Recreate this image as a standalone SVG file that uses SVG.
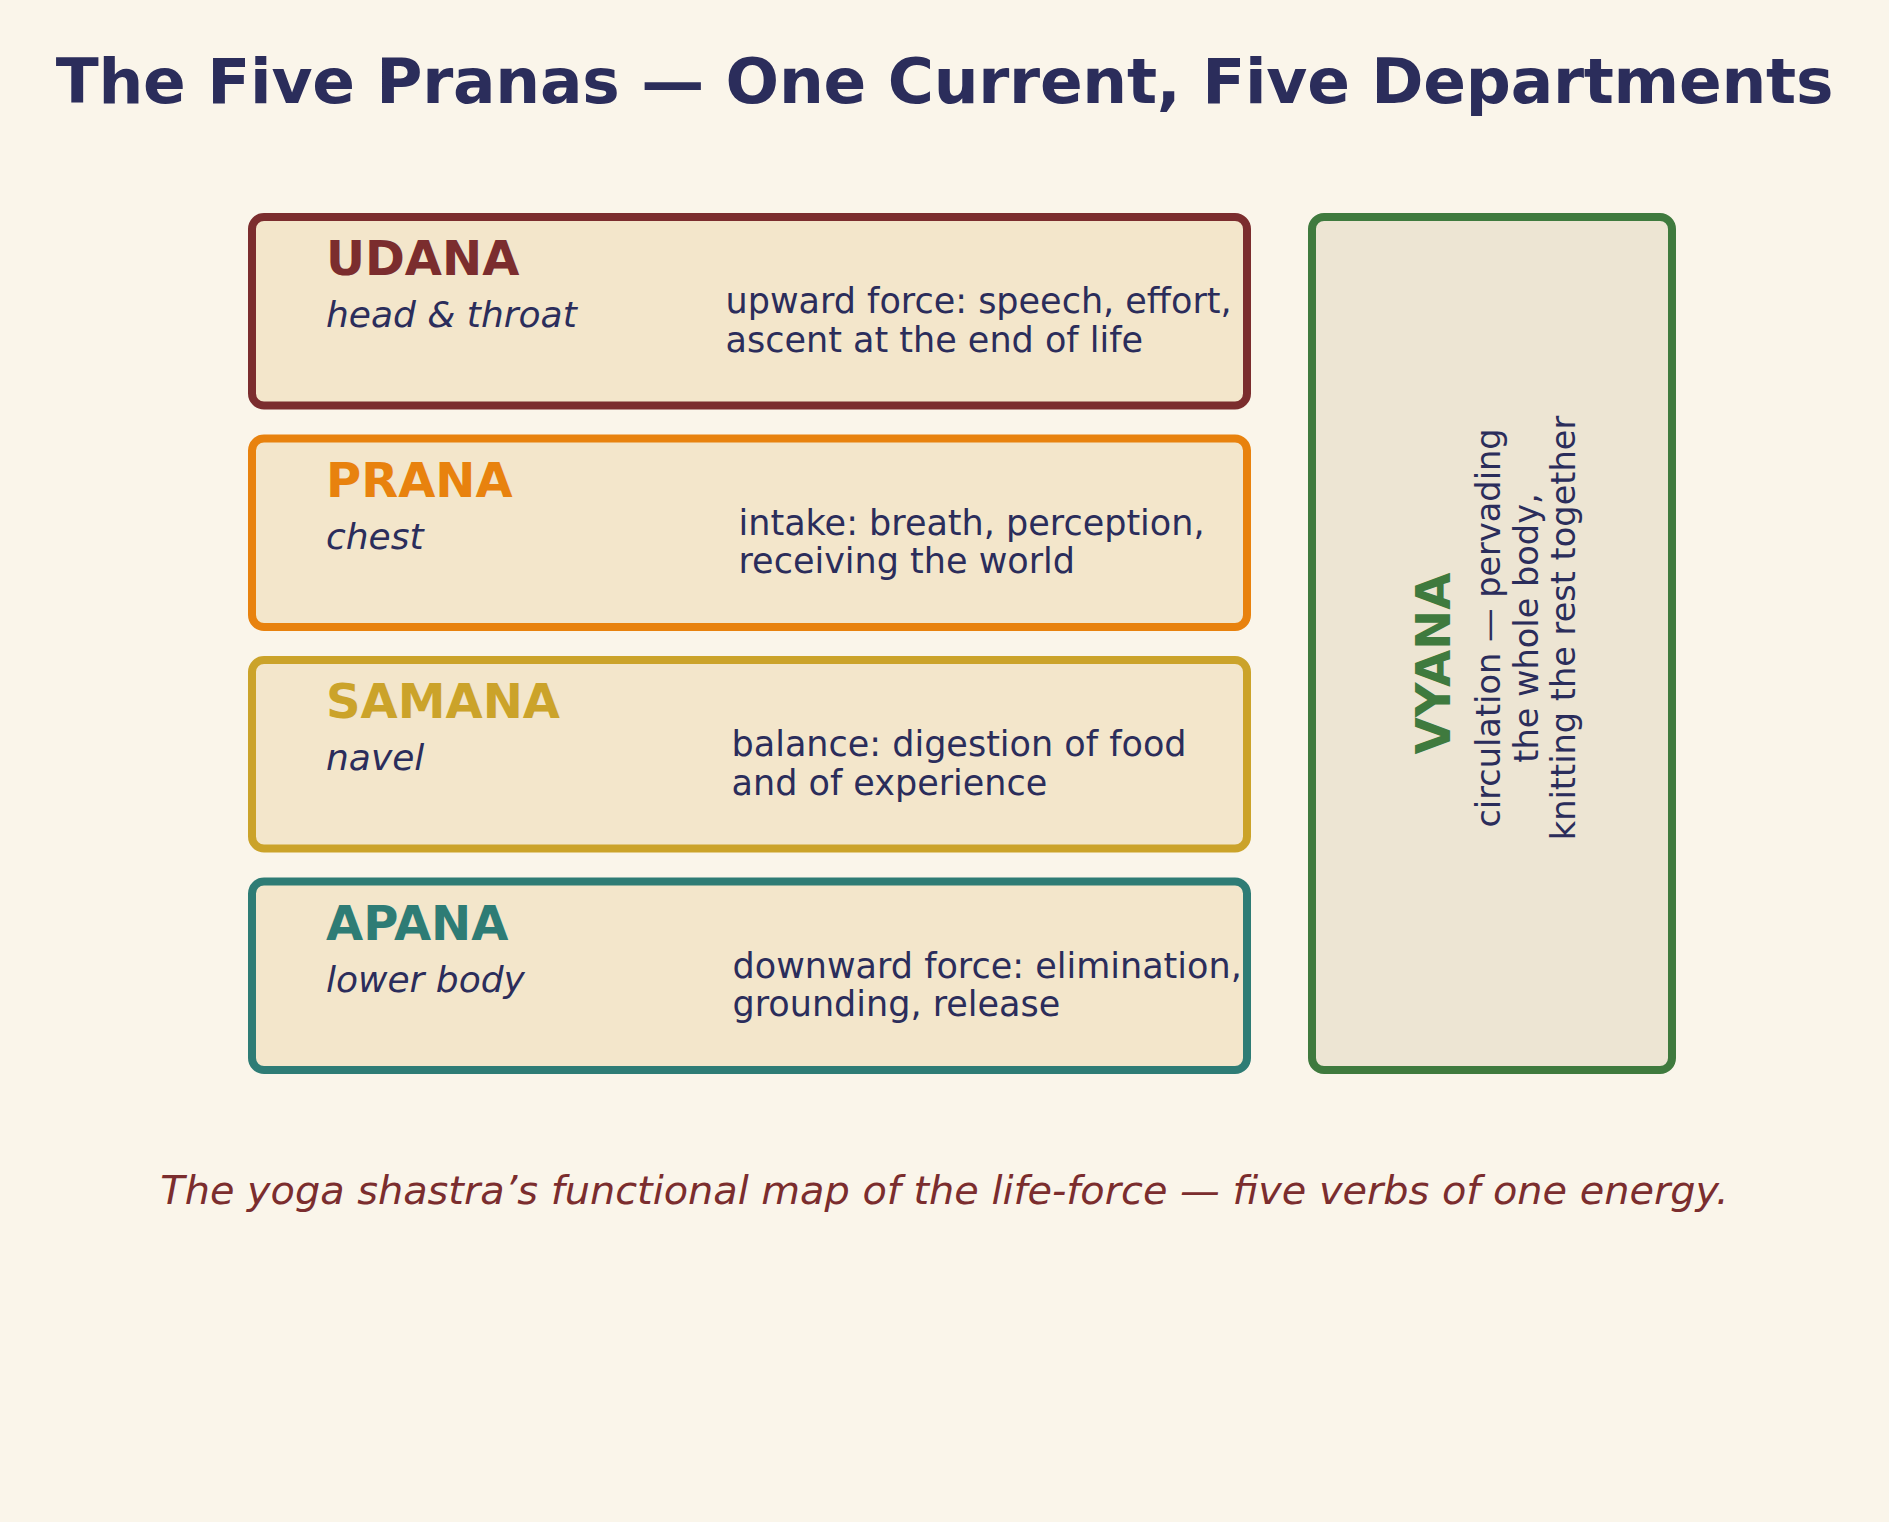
<svg xmlns="http://www.w3.org/2000/svg" width="1889" height="1522" viewBox="0 0 1889 1522">
<style>
.bg{fill:#faf5ea}
.box{fill:#f3e6cb;stroke-width:8}
.title{font-family:"DejaVu Sans",Verdana,sans-serif;font-weight:bold;font-size:63px;letter-spacing:-0.25px;fill:#2b2d5b}
.name{font-family:"DejaVu Sans",Verdana,sans-serif;font-weight:bold;font-size:48px}
.region{font-family:"DejaVu Sans",Verdana,sans-serif;font-style:italic;font-size:36px;fill:#2b2d5b}
.desc{font-family:"DejaVu Sans",Verdana,sans-serif;font-size:35px;fill:#2b2d5b}
.vdesc{font-family:"DejaVu Sans",Verdana,sans-serif;font-size:33.6px;fill:#2b2d5b}
.foot{font-family:"DejaVu Sans",Verdana,sans-serif;font-style:italic;font-size:39.8px;fill:#7b2d2e}
</style>
<rect class="bg" x="0" y="0" width="1889" height="1522"/>
<text class="title" x="944.5" y="103" text-anchor="middle">The Five Pranas — One Current, Five Departments</text>

<g id="udana">
<rect class="box" x="252" y="217" width="995" height="188.5" rx="12" stroke="#7b2d2e"/>
<text class="name" x="326" y="275" fill="#7b2d2e">UDANA</text>
<text class="region" x="326" y="327">head &amp; throat</text>
<text class="desc" x="725.5" y="313"><tspan x="725.5">upward force: speech, effort,</tspan><tspan x="725.5" dy="38.5">ascent at the end of life</tspan></text>
</g>

<g id="prana">
<rect class="box" x="252" y="438.5" width="995" height="188.5" rx="12" stroke="#e8820e"/>
<text class="name" x="326" y="496.5" fill="#e8820e">PRANA</text>
<text class="region" x="326" y="548.5">chest</text>
<text class="desc" x="738.5" y="534.5"><tspan x="738.5">intake: breath, perception,</tspan><tspan x="738.5" dy="38.5">receiving the world</tspan></text>
</g>

<g id="samana">
<rect class="box" x="252" y="660" width="995" height="188.5" rx="12" stroke="#cba32a"/>
<text class="name" x="326" y="718" fill="#cba32a">SAMANA</text>
<text class="region" x="326" y="770">navel</text>
<text class="desc" x="731.5" y="756"><tspan x="731.5">balance: digestion of food</tspan><tspan x="731.5" dy="38.5">and of experience</tspan></text>
</g>

<g id="apana">
<rect class="box" x="252" y="881.5" width="995" height="188.5" rx="12" stroke="#2e7c75"/>
<text class="name" x="326" y="939.5" fill="#2e7c75">APANA</text>
<text class="region" x="326" y="991.5">lower body</text>
<text class="desc" x="732.5" y="977.5"><tspan x="732.5">downward force: elimination,</tspan><tspan x="732.5" dy="38.5">grounding, release</tspan></text>
</g>

<g id="vyana">
<rect x="1312" y="217" width="360" height="853" rx="12" fill="#ede5d3" stroke="#3f7a3e" stroke-width="8"/>
<text class="name" transform="translate(1450,663.5) rotate(-90)" text-anchor="middle" fill="#3f7a3e">VYANA</text>
<text class="vdesc" transform="translate(1500,628) rotate(-90)" text-anchor="middle">circulation — pervading</text>
<text class="vdesc" transform="translate(1537.5,628) rotate(-90)" text-anchor="middle">the whole body,</text>
<text class="vdesc" transform="translate(1575,628) rotate(-90)" text-anchor="middle">knitting the rest together</text>
</g>

<g id="connectors"></g>

<text class="foot" x="944.5" y="1204" text-anchor="middle">The yoga shastra’s functional map of the life-force — five verbs of one energy.</text>
</svg>
